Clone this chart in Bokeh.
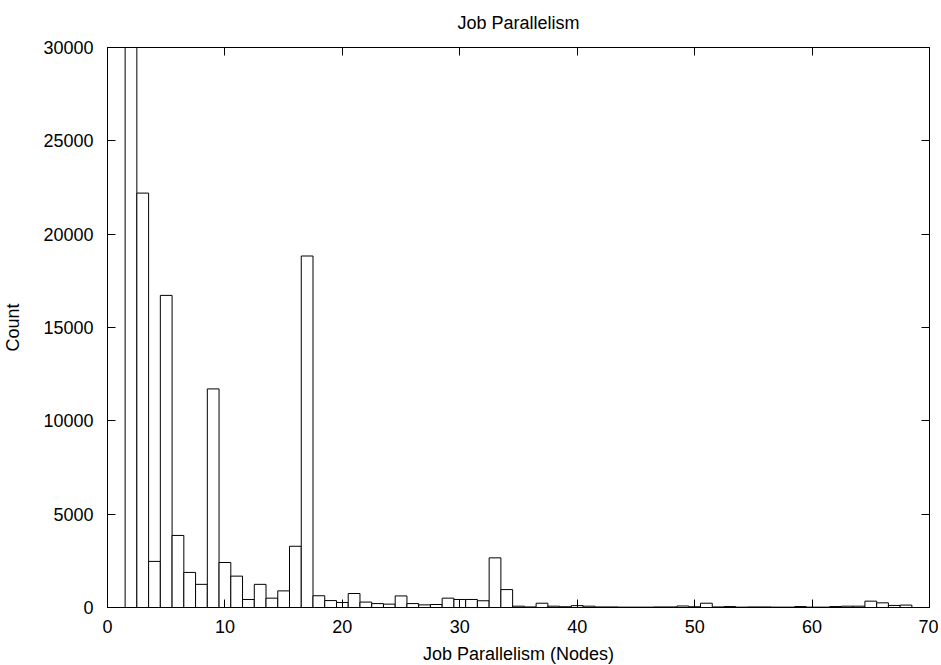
from bokeh.plotting import figure
from bokeh.models import Range1d, LinearAxis, SingleIntervalTicker, ColumnDataSource
from bokeh.embed import file_html
from bokeh.resources import INLINE

# Data (bar centred on each node count)
nodes = [2, 3, 4, 5, 6, 7, 8, 9, 10, 11, 12, 13, 14, 15, 16, 17, 18, 19, 20,
         21, 22, 23, 24, 25, 26, 27, 28, 29, 30, 31, 32, 33, 34, 35, 36, 37, 38,
         39, 40, 41, 42, 43, 44, 45, 46, 47, 48, 49, 50, 51, 52, 53, 54, 55, 56,
         57, 58, 59, 60, 61, 62, 63, 64, 65, 66, 67, 68]
counts = [42000, 22200, 2470, 16720, 3860, 1880, 1240, 11710, 2410, 1680, 430,
          1240, 500, 890, 3280, 18830, 630, 370, 270,
          750, 290, 210, 180, 620, 210, 140, 160, 500, 430, 430, 360, 2660, 960,
          70, 30, 230, 70,
          40, 100, 70, 30, 30, 20, 20, 20, 30, 30, 80, 40, 230, 30, 50, 20, 30, 30,
          20, 20, 50, 20, 20, 50, 70, 70, 340, 250, 110, 130]

x_ticks_interval = 10
y_ticks_interval = 5000
x_limits = (0, 70)
y_limits = (0, 30000)

FONT = "Liberation Sans"
FS = "18px"

source = ColumnDataSource(data=dict(x=nodes, top=counts))

p = figure(frame_width=822, frame_height=560, output_backend="svg",
           toolbar_location=None,
           x_range=Range1d(*x_limits), y_range=Range1d(*y_limits),
           min_border_left=99, min_border_right=9, min_border_top=40,
           min_border_bottom=0, title="Job Parallelism",
           x_axis_label="Job Parallelism (Nodes)", y_axis_label="Count")

p.vbar(x="x", top="top", width=1, source=source, fill_color="white",
       line_color="black", line_width=1)

p.xgrid.visible = False
p.ygrid.visible = False
p.outline_line_color = "black"
p.outline_line_width = 1
p.background_fill_color = "white"
p.border_fill_color = "white"

p.title.text_font = FONT
p.title.text_font_size = FS
p.title.text_font_style = "normal"
p.title.text_color = "black"
p.title.align = "center"
p.title.standoff = 17
p.title.padding = 2

p.xaxis.ticker = SingleIntervalTicker(interval=x_ticks_interval)
p.yaxis.ticker = SingleIntervalTicker(interval=y_ticks_interval)

for ax in (p.xaxis[0], p.yaxis[0]):
    ax.axis_line_color = "black"
    ax.major_tick_line_color = "black"
    ax.major_tick_in = 8
    ax.major_tick_out = 0
    ax.minor_tick_line_color = None
    ax.major_label_text_font = FONT
    ax.major_label_text_font_size = FS
    ax.major_label_text_color = "black"
    ax.axis_label_text_font = FONT
    ax.axis_label_text_font_size = FS
    ax.axis_label_text_font_style = "normal"
    ax.axis_label_text_color = "black"

p.xaxis.major_label_standoff = 8
p.xaxis.axis_label_standoff = 8
p.yaxis.major_label_standoff = 10
p.yaxis.axis_label_standoff = 17

# mirrored tick marks on the top and right edges
top_ax = LinearAxis(ticker=SingleIntervalTicker(interval=x_ticks_interval),
                    major_label_overrides={v: "" for v in range(0, 80, 10)})
right_ax = LinearAxis(ticker=SingleIntervalTicker(interval=y_ticks_interval),
                      major_label_overrides={v: "" for v in range(0, 35000, 5000)})
for ax in (top_ax, right_ax):
    ax.axis_line_color = "black"
    ax.major_tick_line_color = "black"
    ax.major_tick_in = 8
    ax.major_tick_out = 0
    ax.minor_tick_line_color = None
    ax.major_label_standoff = 0
    ax.major_label_text_font_size = "1px"
p.add_layout(top_ax, "above")
p.add_layout(right_ax, "right")

open("out.html", "w").write(file_html(p, INLINE))
